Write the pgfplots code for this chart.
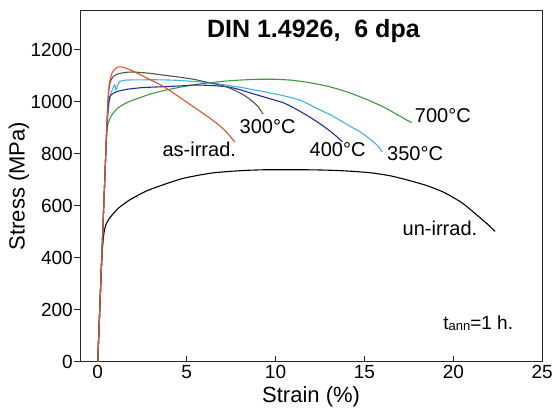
\documentclass[border=0pt]{standalone}
\usepackage{pgfplots}
\pgfplotsset{compat=1.18}
\usepackage{fontspec}
\setmainfont{Liberation Sans}
\definecolor{cRed}{HTML}{E8502A}
\definecolor{cOlive}{HTML}{4B5B45}
\definecolor{cCyan}{HTML}{40B4DC}
\definecolor{cBlue}{HTML}{1F2F9F}
\definecolor{cGreen}{HTML}{3C9A3C}
\begin{document}
\begin{tikzpicture}
\path[use as bounding box] (-80pt,-50.5pt) rectangle (473pt,361.5pt);
\begin{axis}[
  at={(0pt,0pt)}, anchor=south west,
  scale only axis, width=462.2pt, height=350.8pt,
  xmin=-1, xmax=25, ymin=0, ymax=1350,
  xtick={0,5,...,25}, ytick={0,200,...,1200},
  xtick pos=bottom, ytick pos=left,
  xtick align=inside, ytick align=outside,
  major tick length=6pt,
  axis line style={line width=0.8pt, black!85},
  every tick/.style={line width=0.8pt, black!85},
  /pgf/number format/assume math mode=true,
  /pgf/number format/1000 sep={},
  ticklabel style={font=\fontsize{19}{22}\selectfont},
  yticklabel style={inner xsep=1pt},
  xlabel={Strain (\%)}, ylabel={Stress (MPa)},
  xlabel style={at={(axis description cs:0.5,-0.101)}, anchor=center, font=\fontsize{22}{26}\selectfont},
  ylabel style={at={(axis description cs:-0.132,0.5)}, anchor=center, font=\fontsize{22}{26}\selectfont},
  clip=false,
  every axis plot/.append style={line width=1.1pt, no marks, smooth, tension=0.4},
]
% un-irradiated
\addplot[black] coordinates {(0,0)(0.2,360)(0.32,480)(0.45,525)(0.7,555)(1.16,590)(1.8,622)(2.7,655)(3.8,683)(4.7,703)(5.6,716)(6.5,726)(7.5,732)(8.5,736)(9.5,738)(10.5,738)(11.5,738)(12.5,737)(13.5,735)(14.5,731)(15.5,725)(16.5,714)(17.5,697)(18.5,677)(19.5,650)(20.5,610)(21.3,565)(21.9,530)(22.35,501)};
% 700 C
\addplot[cGreen] coordinates {(0,0)(0.45,800)(0.5,880)(0.6,920)(0.8,950)(1.16,977)(1.6,995)(2.1,1009)(3,1030)(4,1047)(5,1060)(5.85,1069)(7,1078)(8,1083)(9,1086)(10,1086)(11,1082)(12,1072)(13,1058)(14,1038)(15,1012)(16,982)(16.8,952)(17.3,932)(17.65,920)};
% 350 C
\addplot[cCyan] coordinates {(0,0)(0.45,800)(0.55,940)(0.65,1000)(0.75,1035)(0.85,1050)(0.95,1065)(1.02,1045)(1.1,1060)(1.25,1078)(1.6,1083)(2.5,1084)(3.5,1084)(4.5,1082)(5.5,1077)(6.3,1073)(7.2,1064)(8.2,1053)(9.2,1040)(10.3,1025)(11.4,1005)(12.3,975)(13.2,945)(14.2,905)(14.8,882)(15.4,851)(15.75,830)(16.0,807)};
% 400 C
\addplot[cBlue] coordinates {(0,0)(0.45,800)(0.55,940)(0.62,1000)(0.7,1022)(0.9,1033)(1.2,1041)(1.7,1048)(2.5,1054)(3.5,1057)(4.5,1060)(5.5,1064)(6.4,1062)(7.3,1057)(8.0,1046)(8.6,1033)(9.5,1015)(10.5,994)(11.4,962)(12.35,922)(13.0,890)(13.4,868)(13.75,846)};
% 300 C
\addplot[cOlive] coordinates {(0,0)(0.45,800)(0.52,920)(0.6,1030)(0.7,1075)(0.85,1095)(1.1,1106)(1.5,1112)(2.0,1114)(2.8,1110)(3.6,1103)(4.5,1095)(5.4,1086)(6.3,1072)(7.0,1062)(7.6,1047)(8.1,1030)(8.5,1012)(8.8,995)(9.05,978)(9.3,952)};
% as-irradiated
\addplot[cRed] coordinates {(0,0)(0.45,800)(0.52,920)(0.58,1010)(0.65,1070)(0.8,1110)(1.0,1128)(1.2,1134)(1.5,1131)(2.0,1117)(2.5,1100)(3.0,1083)(3.7,1058)(4.6,1017)(5.6,970)(6.3,937)(6.9,905)(7.3,878)(7.72,844)};
\node[font=\fontsize{20}{24}\selectfont] at (axis cs:5.71,816) {as-irrad.};
\node[font=\fontsize{20}{24}\selectfont] at (axis cs:9.55,903) {300°C};
\node[font=\fontsize{20}{24}\selectfont] at (axis cs:13.49,814) {400°C};
\node[font=\fontsize{20}{24}\selectfont] at (axis cs:17.85,800) {350°C};
\node[font=\fontsize{20}{24}\selectfont] at (axis cs:19.41,945) {700°C};
\node[font=\fontsize{20}{24}\selectfont] at (axis cs:19.25,511) {un-irrad.};
\node[font=\fontsize{19}{22}\selectfont] at (axis cs:21.4,148) {t\raisebox{-1.5pt}{\fontsize{13}{14}\selectfont ann}=1 h.};
\node[font=\bfseries\fontsize{25}{28}\selectfont] at (axis cs:12.13,1272) {DIN 1.4926,\ \ 6 dpa};
\end{axis}
\end{tikzpicture}
\end{document}
